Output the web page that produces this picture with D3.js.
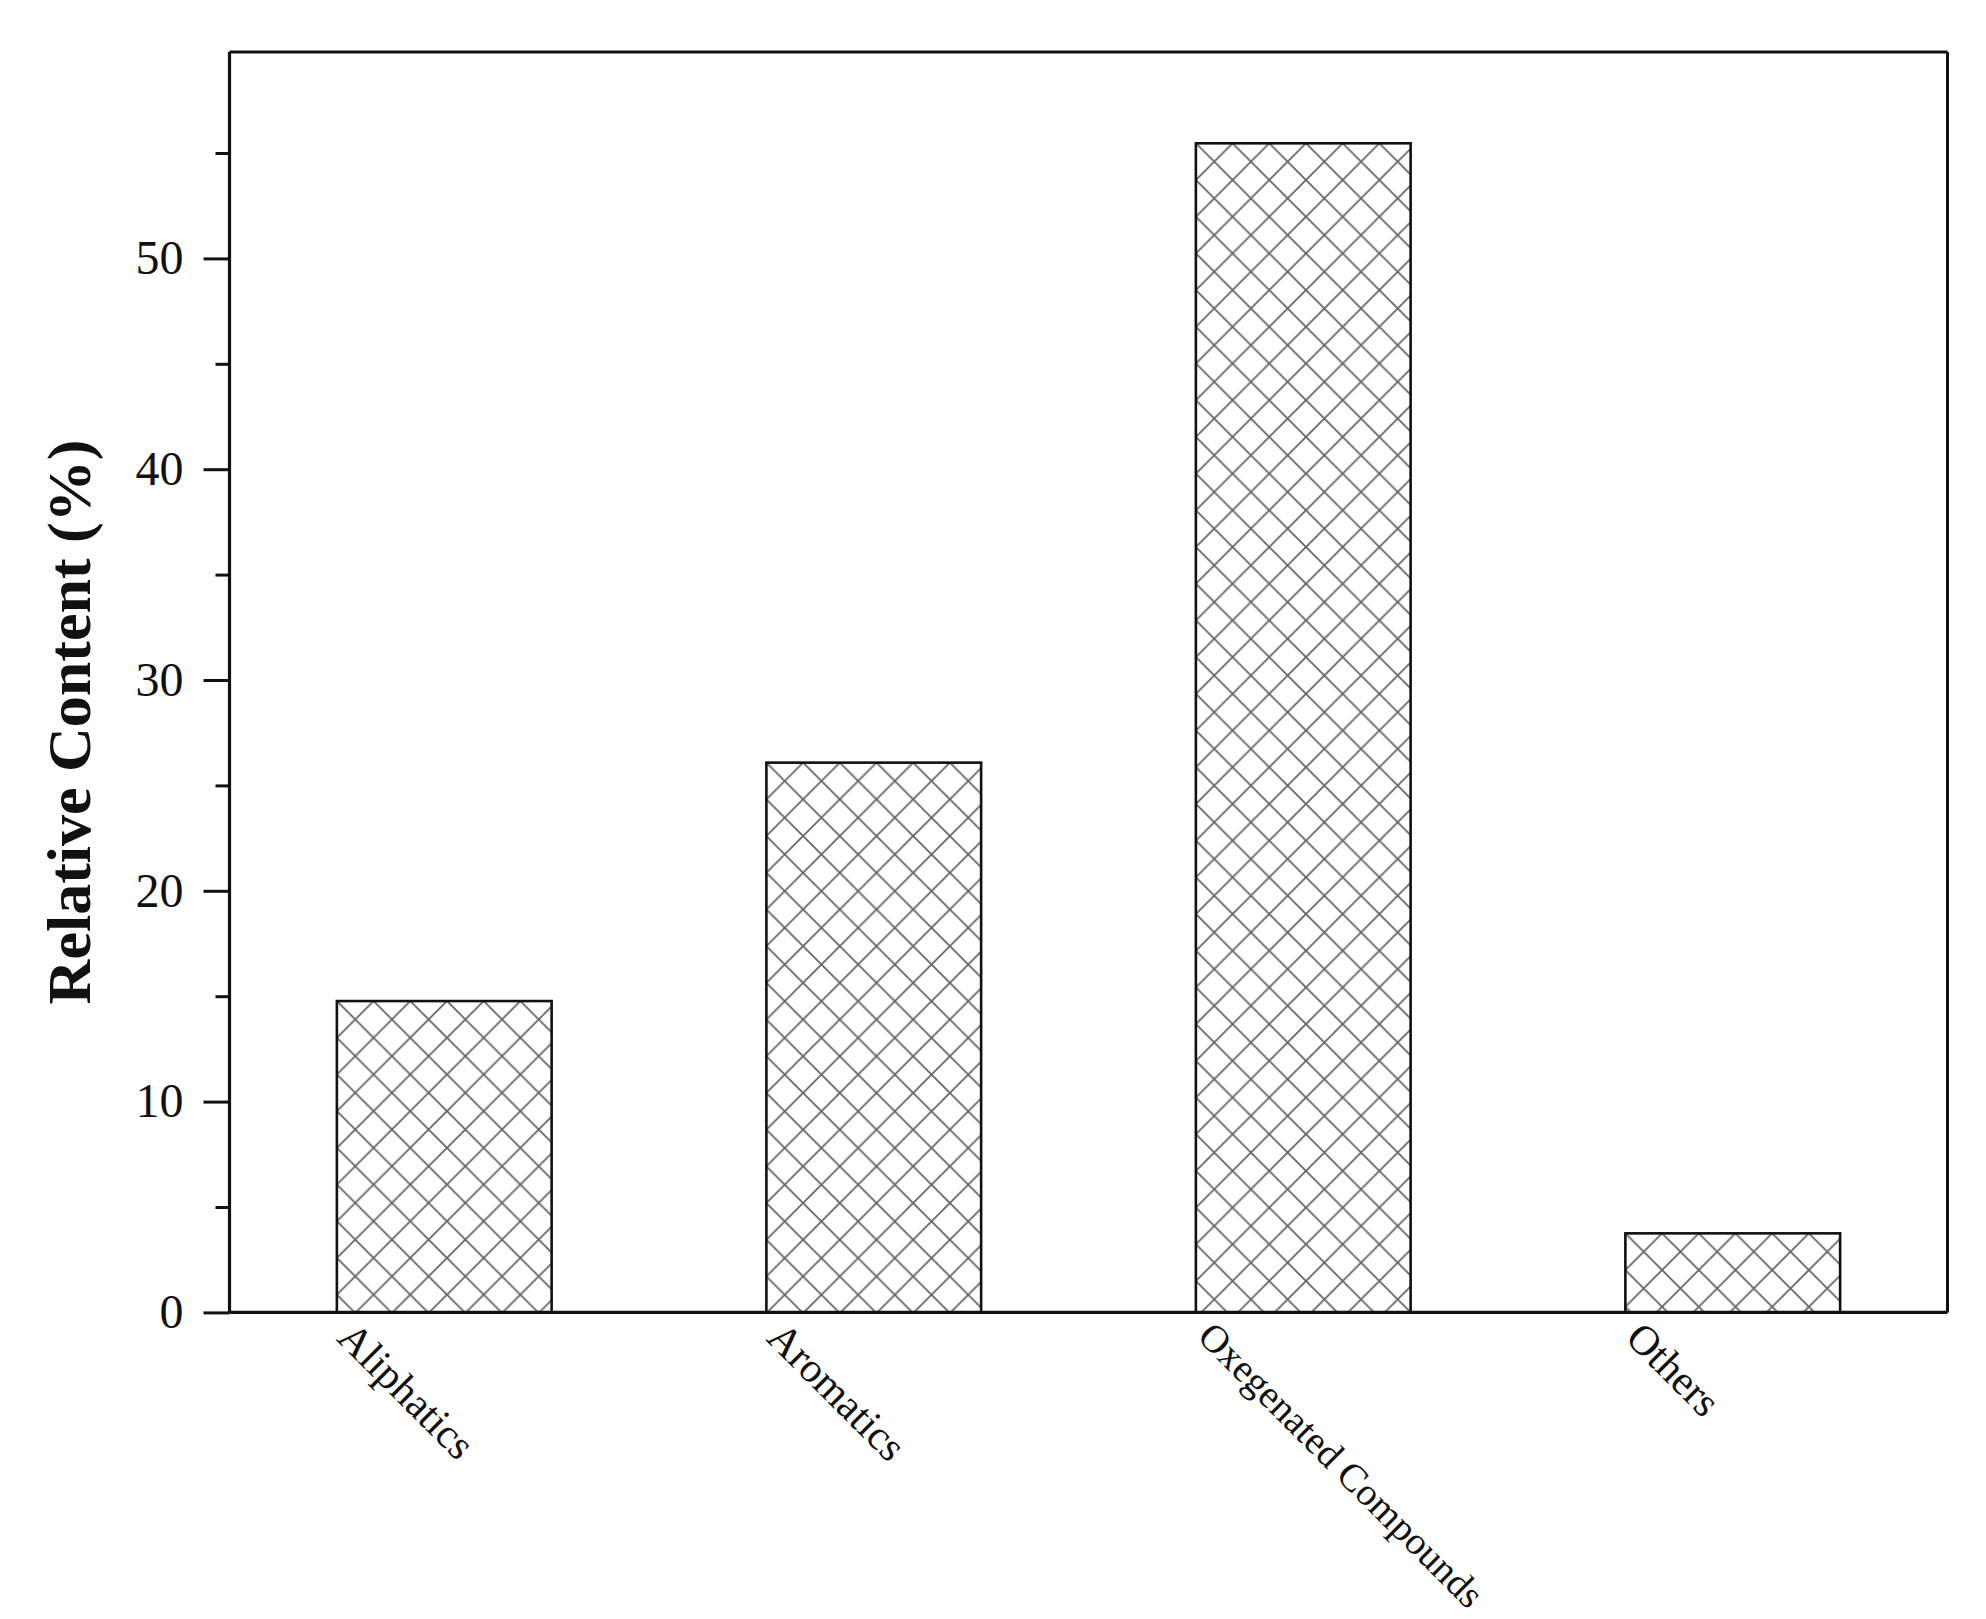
<!DOCTYPE html>
<html>
<head>
<meta charset="utf-8">
<script src="https://cdn.jsdelivr.net/npm/d3@7"></script>
<style>
  html, body { margin: 0; padding: 0; background: #fff; }
  svg { display: block; }
</style>
</head>
<body>
<script>
// ---- data ----
const categories = ["Aliphatics", "Aromatics", "Oxegenated Compounds", "Others"];
const values = [14.77, 26.08, 55.46, 3.75];
const yMajorTicks = [0, 10, 20, 30, 40, 50];
const yMinorTicks = [5, 15, 25, 35, 45, 55];
const yTitle = "Relative Content (%)";

// ---- layout ----
const W = 1986, H = 1619;
const plotL = 229.5, plotR = 1947.5, plotT = 52, plotB = 1312.4;

const svg = d3.select("body").append("svg").attr("width", W).attr("height", H);

const x = d3.scaleBand().domain(categories).range([plotL, plotR])
  .paddingInner(0.5).paddingOuter(0.25);
const y = d3.scaleLinear().domain([0, (plotB - plotT) / 21.08]).range([plotB, plotT]);

// hatch pattern
const s = 36.7;
const defs = svg.append("defs");
const pat = defs.append("pattern").attr("id", "hatch")
  .attr("patternUnits", "userSpaceOnUse").attr("width", s).attr("height", s);
pat.append("path")
  .attr("d", `M${-s/2},${-s/2}L${1.5*s},${1.5*s}M${1.5*s},${-s/2}L${-s/2},${1.5*s}`)
  .attr("stroke", "#666").attr("stroke-width", 1.8).attr("fill", "none");

// bars
const bars = svg.append("g").selectAll("g").data(categories).join("g")
  .attr("transform", (d, i) => `translate(${x(d)},${y(values[i])})`);
bars.append("rect")
  .attr("x", 0).attr("y", 0)
  .attr("width", x.bandwidth())
  .attr("height", (d, i) => y(0) - y(values[i]))
  .attr("fill", "url(#hatch)")
  .attr("stroke", "#111").attr("stroke-width", 2.6);

// frame
const frame = svg.append("g").attr("fill", "none").attr("stroke", "#111").attr("stroke-width", 3);
frame.append("line").attr("x1", plotL).attr("x2", plotR).attr("y1", plotT).attr("y2", plotT);
frame.append("line").attr("x1", plotR).attr("x2", plotR).attr("y1", plotT).attr("y2", plotB);

// y axis
const yAxis = d3.axisLeft(y).tickValues(yMajorTicks).tickSize(26).tickPadding(20).tickFormat(d3.format("d"));
const gy = svg.append("g").attr("transform", `translate(${plotL},0)`).call(yAxis);
gy.select(".domain").attr("stroke", "#111").attr("stroke-width", 3.2)
  .attr("d", `M0,${plotT}V${plotB}`);
gy.selectAll(".tick line").attr("stroke", "#111").attr("stroke-width", 3);
gy.selectAll(".tick text").attr("font-family", "'Liberation Serif', 'Times New Roman', serif")
  .attr("font-size", 48).attr("fill", "#111");
const gyMinor = svg.append("g").attr("transform", `translate(${plotL},0)`)
  .call(d3.axisLeft(y).tickValues(yMinorTicks).tickSize(14).tickFormat(""));
gyMinor.select(".domain").remove();
gyMinor.selectAll(".tick line").attr("stroke", "#111").attr("stroke-width", 3);

// x axis baseline
const xAxis = d3.axisBottom(x).tickSize(0).tickFormat("");
const gx = svg.append("g").attr("transform", `translate(0,${plotB})`).call(xAxis);
gx.select(".domain").attr("stroke", "#111").attr("stroke-width", 3.2)
  .attr("d", `M${plotL},0H${plotR}`);

// x labels
svg.append("g").selectAll("text").data(categories).join("text")
  .attr("transform", d => `translate(${x(d) + 20},${plotB + 6}) rotate(45)`)
  .attr("dy", "0.72em")
  .attr("font-family", "'Liberation Serif', 'Times New Roman', serif")
  .attr("font-size", d => d.length > 12 ? 39 : 42).attr("fill", "#111")
  .text(d => d);

// y title
svg.append("text")
  .attr("transform", `translate(90,722) rotate(-90)`)
  .attr("text-anchor", "middle")
  .attr("font-family", "'Liberation Serif', 'Times New Roman', serif")
  .attr("font-weight", "bold").attr("font-size", 62).attr("fill", "#111")
  .text(yTitle);
</script>
</body>
</html>
